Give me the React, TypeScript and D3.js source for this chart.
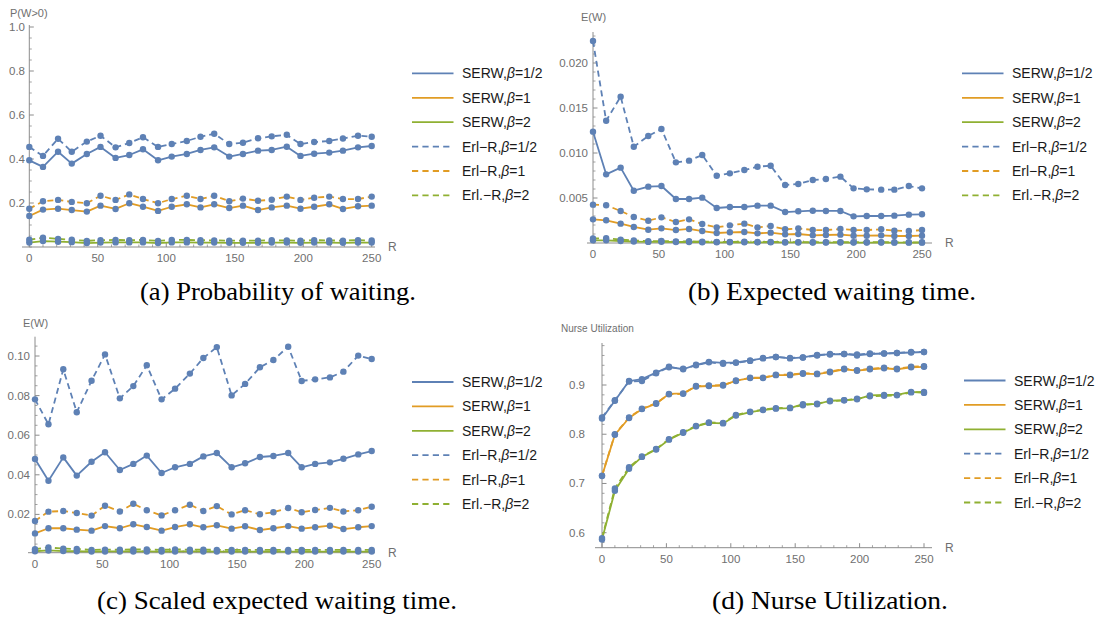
import React from "react";
import * as d3 from "d3";

// Number of beds R at which every policy was evaluated
const R = [0, 10, 21, 31, 42, 52, 63, 73, 83, 94, 104, 115, 125, 135, 146, 156, 167, 177, 188, 198, 208, 219, 229, 240, 250];

// (a) probability of waiting P(W>0)
const probSerwHalf = [0.394, 0.364, 0.433, 0.379, 0.423, 0.455, 0.405, 0.418, 0.444, 0.394, 0.411, 0.423, 0.441, 0.453, 0.411, 0.423, 0.438, 0.441, 0.456, 0.414, 0.424, 0.429, 0.438, 0.453, 0.459];
const probSerw1 = [0.141, 0.170, 0.174, 0.168, 0.161, 0.188, 0.173, 0.199, 0.183, 0.164, 0.183, 0.194, 0.180, 0.194, 0.177, 0.188, 0.168, 0.180, 0.188, 0.174, 0.183, 0.194, 0.173, 0.185, 0.188];
const probSerw2 = [0.020, 0.027, 0.024, 0.022, 0.018, 0.020, 0.021, 0.021, 0.021, 0.018, 0.021, 0.021, 0.020, 0.020, 0.019, 0.019, 0.019, 0.020, 0.020, 0.019, 0.020, 0.020, 0.019, 0.020, 0.020];
const probErlHalf = [0.455, 0.414, 0.492, 0.433, 0.479, 0.506, 0.453, 0.473, 0.499, 0.455, 0.468, 0.482, 0.501, 0.515, 0.468, 0.474, 0.494, 0.503, 0.510, 0.468, 0.477, 0.482, 0.493, 0.506, 0.501];
const probErl1 = [0.174, 0.208, 0.214, 0.205, 0.199, 0.233, 0.214, 0.239, 0.218, 0.199, 0.218, 0.233, 0.218, 0.233, 0.208, 0.220, 0.210, 0.215, 0.229, 0.214, 0.224, 0.229, 0.218, 0.218, 0.229];
const probErl2 = [0.033, 0.042, 0.037, 0.033, 0.028, 0.031, 0.032, 0.031, 0.032, 0.028, 0.032, 0.032, 0.031, 0.030, 0.029, 0.029, 0.029, 0.031, 0.030, 0.029, 0.031, 0.030, 0.029, 0.031, 0.030];

// (b) expected waiting time E(W)
const ewSerwHalf = [0.01237, 0.00763, 0.00837, 0.00581, 0.00626, 0.00633, 0.00489, 0.00489, 0.00504, 0.00389, 0.00400, 0.00400, 0.00415, 0.00415, 0.00344, 0.00352, 0.00359, 0.00356, 0.00356, 0.00296, 0.00300, 0.00300, 0.00304, 0.00315, 0.00319];
const ewSerw1 = [0.00263, 0.00252, 0.00215, 0.00178, 0.00148, 0.00163, 0.00144, 0.00156, 0.00133, 0.00111, 0.00119, 0.00122, 0.00107, 0.00115, 0.00096, 0.00100, 0.00085, 0.00089, 0.00093, 0.00081, 0.00081, 0.00085, 0.00078, 0.00078, 0.00081];
const ewSerw2 = [0.00030, 0.00030, 0.00022, 0.00016, 0.00012, 0.00013, 0.00011, 0.00011, 0.00009, 0.00008, 0.00008, 0.00008, 0.00007, 0.00007, 0.00006, 0.00006, 0.00005, 0.00005, 0.00005, 0.00005, 0.00005, 0.00005, 0.00004, 0.00004, 0.00004];
const ewErlHalf = [0.02244, 0.01359, 0.01626, 0.01070, 0.01189, 0.01267, 0.00896, 0.00915, 0.00978, 0.00748, 0.00774, 0.00811, 0.00848, 0.00859, 0.00644, 0.00656, 0.00700, 0.00711, 0.00737, 0.00607, 0.00596, 0.00593, 0.00593, 0.00633, 0.00607];
const ewErl1 = [0.00426, 0.00419, 0.00356, 0.00289, 0.00248, 0.00285, 0.00233, 0.00263, 0.00211, 0.00174, 0.00196, 0.00215, 0.00174, 0.00189, 0.00152, 0.00163, 0.00144, 0.00144, 0.00156, 0.00144, 0.00144, 0.00152, 0.00137, 0.00133, 0.00144];
const ewErl2 = [0.00050, 0.00052, 0.00038, 0.00028, 0.00020, 0.00022, 0.00018, 0.00019, 0.00015, 0.00012, 0.00013, 0.00014, 0.00011, 0.00012, 0.00010, 0.00010, 0.00009, 0.00009, 0.00010, 0.00009, 0.00009, 0.00009, 0.00008, 0.00008, 0.00008];

// (c) scaled expected waiting time
const sewSerwHalf = [0.0480, 0.0370, 0.0488, 0.0396, 0.0466, 0.0514, 0.0424, 0.0455, 0.0497, 0.0409, 0.0438, 0.0455, 0.0493, 0.0510, 0.0438, 0.0458, 0.0490, 0.0495, 0.0510, 0.0438, 0.0455, 0.0463, 0.0481, 0.0503, 0.0520];
const sewSerw1 = [0.0104, 0.0130, 0.0130, 0.0123, 0.0118, 0.0141, 0.0130, 0.0150, 0.0136, 0.0118, 0.0136, 0.0150, 0.0135, 0.0145, 0.0128, 0.0140, 0.0121, 0.0130, 0.0141, 0.0128, 0.0135, 0.0143, 0.0126, 0.0135, 0.0141];
const sewSerw2 = [0.0014, 0.0018, 0.0015, 0.0014, 0.0012, 0.0013, 0.0013, 0.0013, 0.0013, 0.0012, 0.0013, 0.0013, 0.0013, 0.0012, 0.0012, 0.0012, 0.0012, 0.0012, 0.0012, 0.0012, 0.0012, 0.0012, 0.0012, 0.0012, 0.0012];
const sewErlHalf = [0.0781, 0.0655, 0.0933, 0.0716, 0.0875, 0.1008, 0.0786, 0.0848, 0.0953, 0.0781, 0.0835, 0.0911, 0.0990, 0.1045, 0.0801, 0.0859, 0.0943, 0.0980, 0.1047, 0.0874, 0.0882, 0.0892, 0.0921, 0.1002, 0.0985];
const sewErl1 = [0.0167, 0.0214, 0.0217, 0.0207, 0.0194, 0.0244, 0.0215, 0.0254, 0.0221, 0.0195, 0.0221, 0.0249, 0.0217, 0.0242, 0.0200, 0.0221, 0.0201, 0.0211, 0.0232, 0.0211, 0.0222, 0.0233, 0.0215, 0.0221, 0.0239];
const sewErl2 = [0.0024, 0.0033, 0.0027, 0.0025, 0.0021, 0.0022, 0.0022, 0.0023, 0.0023, 0.0021, 0.0023, 0.0022, 0.0022, 0.0021, 0.0021, 0.0021, 0.0021, 0.0021, 0.0021, 0.0021, 0.0021, 0.0021, 0.0021, 0.0021, 0.0021];

// (d) nurse utilization
const utilSerwHalf = [0.832, 0.868, 0.908, 0.912, 0.925, 0.937, 0.932, 0.941, 0.947, 0.945, 0.946, 0.950, 0.954, 0.957, 0.954, 0.956, 0.961, 0.962, 0.963, 0.960, 0.963, 0.964, 0.965, 0.966, 0.967];
const utilSerw1 = [0.715, 0.799, 0.833, 0.851, 0.862, 0.882, 0.883, 0.897, 0.898, 0.899, 0.909, 0.914, 0.914, 0.920, 0.920, 0.923, 0.922, 0.926, 0.932, 0.929, 0.932, 0.934, 0.932, 0.936, 0.937];
const utilSerw2 = [0.586, 0.685, 0.730, 0.754, 0.769, 0.789, 0.803, 0.816, 0.823, 0.822, 0.838, 0.845, 0.849, 0.852, 0.853, 0.861, 0.861, 0.868, 0.869, 0.871, 0.879, 0.880, 0.880, 0.886, 0.884];
const utilErlHalf = [0.834, 0.869, 0.907, 0.908, 0.924, 0.936, 0.933, 0.940, 0.946, 0.943, 0.945, 0.949, 0.955, 0.957, 0.955, 0.956, 0.960, 0.963, 0.963, 0.962, 0.964, 0.964, 0.965, 0.967, 0.967];
const utilErl1 = [0.716, 0.800, 0.834, 0.852, 0.863, 0.881, 0.882, 0.898, 0.899, 0.900, 0.908, 0.915, 0.915, 0.921, 0.921, 0.924, 0.923, 0.927, 0.933, 0.930, 0.933, 0.935, 0.933, 0.937, 0.938];
const utilErl2 = [0.589, 0.690, 0.733, 0.755, 0.770, 0.790, 0.804, 0.817, 0.824, 0.823, 0.839, 0.846, 0.850, 0.853, 0.854, 0.859, 0.862, 0.867, 0.869, 0.872, 0.877, 0.878, 0.879, 0.885, 0.886];

// Axis ticks and labels
const xTicks = [0, 50, 100, 150, 200, 250];
const probTicks = [0.2, 0.4, 0.6, 0.8, 1.0];
const probTickLabels = ["0.2", "0.4", "0.6", "0.8", "1.0"];
const ewTicks = [0.005, 0.01, 0.015, 0.02];
const ewTickLabels = ["0.005", "0.010", "0.015", "0.020"];
const sewTicks = [0.02, 0.04, 0.06, 0.08, 0.1];
const sewTickLabels = ["0.02", "0.04", "0.06", "0.08", "0.10"];
const utilTicks = [0.6, 0.7, 0.8, 0.9];
const utilTickLabels = ["0.6", "0.7", "0.8", "0.9"];

// Legend entries (same order as the series lists)
const legendNames = ["SERW", "SERW", "SERW", "Erl\u2212R", "Erl\u2212R", "Erl.\u2212R"];
const legendBetas = ["1/2", "1", "2", "1/2", "1", "2"];

const BLUE = "#5E81B5";
const ORANGE = "#E19C24";
const GREEN = "#8FB032";
const seriesColors = [BLUE, ORANGE, GREEN, BLUE, ORANGE, GREEN];
const seriesDashed = [false, false, false, true, true, true];

const AXIS = "#8c8c8c";
const TICKTEXT = "#6f6f6f";
const SANS = "'Liberation Sans', Arial, sans-serif";
const SERIF = "'Liberation Serif', 'Times New Roman', serif";

interface PanelSpec {
  series: number[][];
  x0: number;
  x250: number;
  yDomain: [number, number];
  yRange: [number, number];
  xAxisY: number;
  xAxisFrom: number;
  xAxisTo: number;
  yAxisTop: number;
  yTicks: number[];
  yTickLabels: string[];
  yMinorStep: number;
  yLabelRight: number;
  yTitle: string;
  yTitleX: number;
  yTitleY: number;
  yTitleSize: number;
  legendX: number;
  legendY0: number;
  caption: string;
  captionX: number;
  captionY: number;
  captionWidth: number;
}

const panels: PanelSpec[] = [
  {
    series: [probSerwHalf, probSerw1, probSerw2, probErlHalf, probErl1, probErl2],
    x0: 29.3, x250: 371.7,
    yDomain: [0, 1], yRange: [247, 27],
    xAxisY: 247, xAxisFrom: 22, xAxisTo: 375, yAxisTop: 25,
    yTicks: probTicks, yTickLabels: probTickLabels, yMinorStep: 0.05, yLabelRight: 25,
    yTitle: "P(W>0)", yTitleX: 10, yTitleY: 13, yTitleSize: 11,
    legendX: 412, legendY0: 73.4,
    caption: "(a) Probability of waiting.", captionX: 278, captionY: 300, captionWidth: 276,
  },
  {
    series: [ewSerwHalf, ewSerw1, ewSerw2, ewErlHalf, ewErl1, ewErl2],
    x0: 593, x250: 922,
    yDomain: [0, 0.02], yRange: [243, 63],
    xAxisY: 243, xAxisFrom: 587, xAxisTo: 932, yAxisTop: 32,
    yTicks: ewTicks, yTickLabels: ewTickLabels, yMinorStep: 0.001, yLabelRight: 588,
    yTitle: "E(W)", yTitleX: 581, yTitleY: 17, yTitleSize: 11,
    legendX: 962, legendY0: 73.4,
    caption: "(b) Expected waiting time.", captionX: 832, captionY: 300, captionWidth: 288,
  },
  {
    series: [sewSerwHalf, sewSerw1, sewSerw2, sewErlHalf, sewErl1, sewErl2],
    x0: 35, x250: 371.7,
    yDomain: [0, 0.1], yRange: [554, 356],
    xAxisY: 552.7, xAxisFrom: 28, xAxisTo: 375, yAxisTop: 336.7,
    yTicks: sewTicks, yTickLabels: sewTickLabels, yMinorStep: 0.005, yLabelRight: 30,
    yTitle: "E(W)", yTitleX: 23, yTitleY: 323, yTitleSize: 11,
    legendX: 412, legendY0: 382,
    caption: "(c) Scaled expected waiting time.", captionX: 277, captionY: 609, captionWidth: 360,
  },
  {
    series: [utilSerwHalf, utilSerw1, utilSerw2, utilErlHalf, utilErl1, utilErl2],
    x0: 602, x250: 924,
    yDomain: [0.6, 0.9], yRange: [532.7, 385],
    xAxisY: 547.7, xAxisFrom: 595, xAxisTo: 932, yAxisTop: 343,
    yTicks: utilTicks, yTickLabels: utilTickLabels, yMinorStep: 0.02, yLabelRight: 585,
    yTitle: "Nurse Utilization", yTitleX: 561, yTitleY: 328, yTitleSize: 10,
    legendX: 964, legendY0: 380.5,
    caption: "(d) Nurse Utilization.", captionX: 830, captionY: 609, captionWidth: 236,
  },
];

const LEGEND_STEP = 24.4;

function Panel({ spec }: { spec: PanelSpec }) {
  const x = d3.scaleLinear().domain([0, 250]).range([spec.x0, spec.x250]);
  const y = d3.scaleLinear().domain(spec.yDomain).range(spec.yRange);
  const line = d3
    .line<number>()
    .x((_, i) => x(R[i]))
    .y((d) => y(d));

  // minor ticks on both axes, skipping positions of major ticks
  const yLow = y.invert(spec.xAxisY);
  const yHigh = y.invert(spec.yAxisTop);
  const yMinor: number[] = [];
  for (let k = Math.ceil(yLow / spec.yMinorStep - 1e-6); k <= Math.floor(yHigh / spec.yMinorStep + 1e-6); k++) {
    const v = k * spec.yMinorStep;
    if (spec.yTicks.some((t) => Math.abs(t - v) < spec.yMinorStep / 10)) continue;
    yMinor.push(v);
  }
  const xMinor: number[] = [];
  for (let k = Math.ceil(x.invert(spec.xAxisFrom) / 10); k <= Math.floor(x.invert(spec.xAxisTo) / 10); k++) {
    const v = k * 10;
    if (v % 50 === 0) continue;
    xMinor.push(v);
  }
  const yAxisX = x(0);

  return (
    <g>
      {/* axes */}
      <line x1={spec.xAxisFrom} x2={spec.xAxisTo} y1={spec.xAxisY} y2={spec.xAxisY} stroke={AXIS} strokeWidth={1} />
      <line x1={yAxisX} x2={yAxisX} y1={spec.xAxisY} y2={spec.yAxisTop} stroke={AXIS} strokeWidth={1} />
      {xTicks.map((t) => (
        <g key={"xt" + t}>
          <line x1={x(t)} x2={x(t)} y1={spec.xAxisY} y2={spec.xAxisY - 4.5} stroke={AXIS} strokeWidth={1} />
          <text x={x(t)} y={spec.xAxisY + 11} textAnchor="middle" dominantBaseline="central" fontFamily={SANS} fontSize={11.5} fill={TICKTEXT}>
            {t}
          </text>
        </g>
      ))}
      {xMinor.map((t) => (
        <line key={"xm" + t} x1={x(t)} x2={x(t)} y1={spec.xAxisY} y2={spec.xAxisY - 2.5} stroke={AXIS} strokeWidth={0.8} />
      ))}
      {spec.yTicks.map((t, i) => (
        <g key={"yt" + i}>
          <line x1={yAxisX} x2={yAxisX + 4.5} y1={y(t)} y2={y(t)} stroke={AXIS} strokeWidth={1} />
          <text x={spec.yLabelRight} y={y(t)} textAnchor="end" dominantBaseline="central" fontFamily={SANS} fontSize={11.5} fill={TICKTEXT}>
            {spec.yTickLabels[i]}
          </text>
        </g>
      ))}
      {yMinor.map((t, i) => (
        <line key={"ym" + i} x1={yAxisX} x2={yAxisX + 2.5} y1={y(t)} y2={y(t)} stroke={AXIS} strokeWidth={0.8} />
      ))}
      <text x={spec.xAxisTo + 13} y={spec.xAxisY} dominantBaseline="central" fontFamily={SANS} fontSize={12} fill={TICKTEXT}>
        R
      </text>
      <text x={spec.yTitleX} y={spec.yTitleY} dominantBaseline="central" fontFamily={SANS} fontSize={spec.yTitleSize} fill={TICKTEXT}>
        {spec.yTitle}
      </text>

      {/* series lines */}
      {spec.series.map((s, i) => (
        <path
          key={"l" + i}
          d={line(s) || ""}
          fill="none"
          stroke={seriesColors[i]}
          strokeWidth={1.8}
          strokeDasharray={seriesDashed[i] ? "6,4" : undefined}
          strokeLinejoin="round"
        />
      ))}
      {/* markers */}
      {spec.series.map((s, i) =>
        s.map((v, j) => <circle key={"p" + i + "-" + j} cx={x(R[j])} cy={y(v)} r={3.2} fill={BLUE} />)
      )}

      {/* legend */}
      {legendNames.map((name, i) => {
        const ly = spec.legendY0 + i * LEGEND_STEP;
        return (
          <g key={"lg" + i}>
            <line
              x1={spec.legendX}
              x2={spec.legendX + 41.5}
              y1={ly}
              y2={ly}
              stroke={seriesColors[i]}
              strokeWidth={1.8}
              strokeDasharray={seriesDashed[i] ? "6.2,4.2" : undefined}
            />
            <text x={spec.legendX + 50} y={ly + 5} fontFamily={SANS} fontSize={14} fill="#1a1a1a">
              {name},<tspan fontStyle="italic">β</tspan>={legendBetas[i]}
            </text>
          </g>
        );
      })}

      {/* caption */}
      <text
        x={spec.captionX - spec.captionWidth / 2}
        y={spec.captionY}
        fontFamily={SERIF}
        fontSize={26}
        fill="#000"
        textLength={spec.captionWidth}
        lengthAdjust="spacingAndGlyphs"
      >
        {spec.caption}
      </text>
    </g>
  );
}

export default function App() {
  return (
    <svg
      width={1101}
      height={617}
      viewBox="0 0 1101 617"
      style={{ position: "absolute", left: 0, top: 0, background: "#fff" }}
    >
      <rect x={0} y={0} width={1101} height={617} fill="#fff" />
      {panels.map((p, i) => (
        <Panel key={i} spec={p} />
      ))}
    </svg>
  );
}
